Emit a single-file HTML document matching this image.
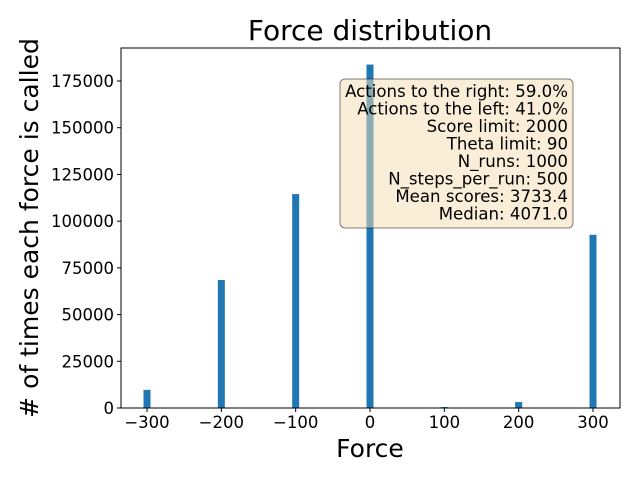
<!DOCTYPE html>
<html><head><meta charset="utf-8"><style>
body{margin:0;background:#fff}
svg text{font-family:"DejaVu Sans","Liberation Sans",sans-serif;fill:#000}
</style></head><body>
<svg width="640" height="480" xmlns="http://www.w3.org/2000/svg">
<rect width="640" height="480" fill="#fff"/>
<text x="370" y="40" font-size="28" text-anchor="middle">Force distribution</text>
<g id="bars"></g>
<g id="axes"></g>
<g>
<rect x="340" y="79" width="233" height="149" rx="5" fill="#f5deb3" fill-opacity="0.5" stroke="#000" stroke-opacity="0.5" stroke-width="1"/>
<g font-size="16.6" text-anchor="end">
<text x="568" y="97">Actions to the right: 59.0%</text>
<text x="568" y="114.5">Actions to the left: 41.0%</text>
<text x="568" y="132">Score limit: 2000</text>
<text x="568" y="149.5">Theta limit: 90</text>
<text x="568" y="167">N_runs: 1000</text>
<text x="568" y="184.5">N_steps_per_run: 500</text>
<text x="568" y="202">Mean scores: 3733.4</text>
<text x="568" y="219.5">Median: 4071.0</text>
</g></g>
<text x="370" y="457" font-size="25" text-anchor="middle">Force</text>
<text transform="translate(38,228) rotate(-90)" font-size="25" text-anchor="middle"># of times each force is called</text>
</svg>
<script>
const categories=[-300,-200,-100,0,100,200,300];
const counts=[9700,68500,114500,183800,500,3200,92700];
const xTicks=[-300,-200,-100,0,100,200,300];
const xTickLabels=["\u2212300","\u2212200","\u2212100","0","100","200","300"];
const yTicks=[0,25000,50000,75000,100000,125000,150000,175000];
const NS="http://www.w3.org/2000/svg";
const L=121,R=620,T=48,B=408;
const xs=v=>370+v*(593-147)/600;
const ys=v=>B-v*(B-81)/175000;
const bars=document.getElementById('bars'),axes=document.getElementById('axes');
function mk(tag,attrs,parent){const e=document.createElementNS(NS,tag);for(const k in attrs)e.setAttribute(k,attrs[k]);parent.appendChild(e);return e;}
categories.forEach((c,i)=>{
 const r=mk('rect',{x:xs(c)-3.5,y:ys(counts[i]),width:7,height:B-ys(counts[i]),fill:'#1f77b4'},bars);
 
 
});
const fr=mk('rect',{x:L,y:T,width:R-L,height:B-T,fill:'none',stroke:'#000','stroke-width':1},axes);


xTicks.forEach((t,i)=>{
 mk('line',{x1:xs(t),x2:xs(t),y1:B,y2:B+4,stroke:'#000'},axes);
 const tx=mk('text',{x:xs(t),y:B+20,'font-size':16.5,'text-anchor':'middle'},axes);
 tx.textContent=xTickLabels[i];
 
 
});
yTicks.forEach(t=>{
 mk('line',{x1:L-4,x2:L,y1:ys(t),y2:ys(t),stroke:'#000'},axes);
 const tx=mk('text',{x:L-7,y:ys(t)+6,'font-size':16.5,'text-anchor':'end'},axes);
 tx.textContent=String(t);
 
 
});
</script>
</body></html>
